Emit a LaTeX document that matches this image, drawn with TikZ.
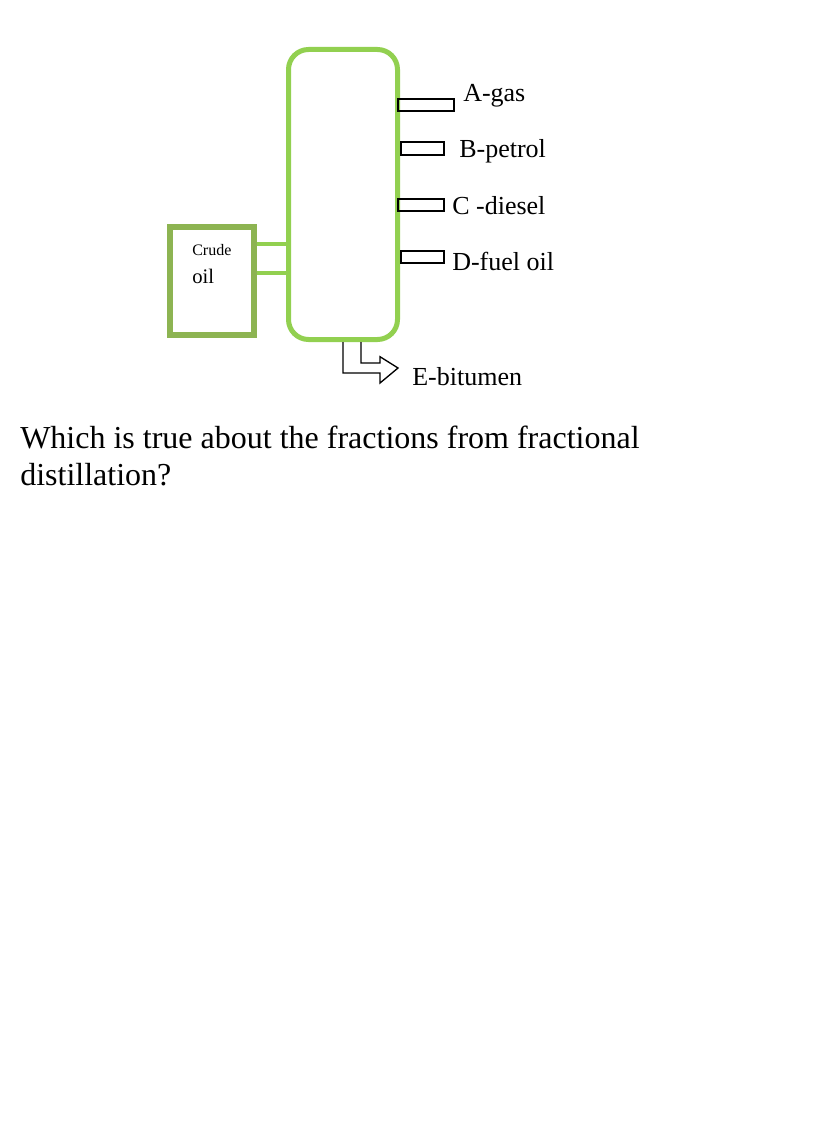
\documentclass[tikz,border=0pt]{standalone}
\usepackage{fontspec}
\setmainfont{Liberation Serif}
\usepackage{xcolor}
\usepackage{tikz}

\definecolor{towergreen}{RGB}{146,208,80}
\definecolor{boxgreen}{RGB}{141,180,82}

\begin{document}
\begin{tikzpicture}[x=0.75pt, y=-0.75pt,
  tower/.style={draw=towergreen, line width=3.75pt, rounded corners=15pt},
  feedbox/.style={draw=boxgreen, line width=4.5pt},
  pipe/.style={draw=towergreen, line width=3pt},
  outlet/.style={draw=black, line width=1.4pt, inner sep=0pt, anchor=west},
  fraction/.style={anchor=base west, inner sep=0pt, font=\fontsize{19.5pt}{23pt}\selectfont}]

%---------------- size parameters ----------------%
\def\px{0.75pt}   % one pixel of the picture
\def\colX{343}    % column centre x
\def\colY{194.5}  % column centre y
\def\colW{109}    % column width
\def\colH{290}    % column height
\def\outH{12.5}   % height of each outlet

\useasboundingbox (0,0) rectangle (830,1131);

%---------------- column and crude oil box ----------------%
\node[tower, minimum width=\colW*\px, minimum height=\colH*\px] (column) at (\colX,\colY) {};
\node[feedbox, minimum width=84*\px, minimum height=108*\px] (crude) at (212,281) {};
\node[anchor=base west, inner sep=0pt, font=\fontsize{12pt}{14pt}\selectfont] (crudetxt) at (192,255) {Crude};
\node[anchor=base west, inner sep=0pt, font=\fontsize{15.5pt}{18pt}\selectfont] (oiltxt) at (192,283) {oil};

% feed pipes
\foreach \y in {244,272.5} {
  \draw[pipe] (crude.east |- 0,\y) -- (column.west |- 0,\y);
}

%---------------- side outlets ----------------%
\foreach \name/\y/\dx/\len in {A/105/-3/56, B/148.5/0/43, C/205/-3/46, D/257/0/43} {
  \node[outlet, minimum width=\len*\px, minimum height=\outH*\px] (out\name) at ([xshift=\dx*\px]column.east |- 0,\y) {};
}
\node[fraction] (labA) at (463,101.5) {A-gas};
\node[fraction] (labB) at (459,157) {B-petrol};
\node[fraction] (labC) at (452,214) {C -diesel};
\node[fraction] (labD) at (452,270) {D-fuel oil};

%---------------- bottom outlet ----------------%
\draw[line width=1pt, line join=miter] ([xshift=0]column.south) -- ++(0,31) -- ++(37,0) -- ++(0,10)
  -- ++(18,-15) -- ++(-18,-11.3) -- ++(0,6.3) -- ++(-19,0) -- ++(0,-21);
\node[fraction] (labE) at (412,385) {E-bitumen};

%---------------- question ----------------%
\node[anchor=base west, inner sep=0pt, font=\fontsize{24pt}{28pt}\selectfont] (qline1) at (20,448) {Which is true about the fractions from fractional};
\node[anchor=base west, inner sep=0pt, font=\fontsize{24pt}{28pt}\selectfont] (qline2) at (20,485) {distillation?};

\end{tikzpicture}
\end{document}
